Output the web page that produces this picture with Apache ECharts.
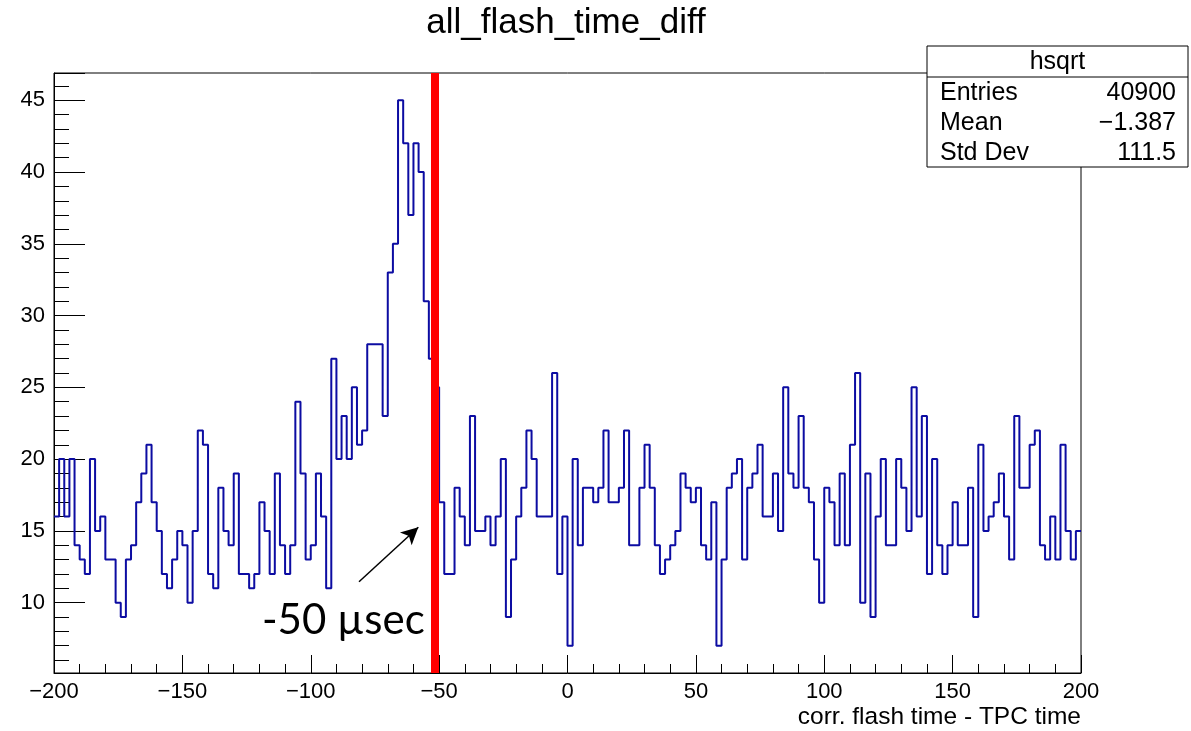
<!DOCTYPE html>
<html>
<head>
<meta charset="utf-8">
<script src="https://cdn.jsdelivr.net/npm/echarts@6/dist/echarts.min.js"></script>
<style>
  html, body { margin: 0; padding: 0; background: #fff; }
  #chart { width: 1191px; height: 731px; }
</style>
</head>
<body>
<div id="chart"></div>
<script>
// ---- data ----
const chartTitle = 'all_flash_time_diff';
const xAxisTitle = 'corr. flash time - TPC time';
const binLow = -200;
const binWidth = 2;
const counts = [
  16,20,16,20,14,13,12,20,15,16,
  13,13,10,9,13,14,17,19,21,17,
  15,12,11,13,15,14,10,15,22,21,
  12,11,18,15,14,19,12,12,11,12,
  17,15,12,19,14,12,14,24,19,13,
  14,19,16,11,27,20,23,20,25,21,
  22,28,28,28,23,33,35,45,42,37,
  42,40,31,27,25,17,12,12,18,16,
  14,23,15,15,16,14,16,20,9,13,
  16,18,22,20,16,16,16,26,12,16,
  7,20,14,18,18,17,18,22,17,17,
  18,22,14,14,18,21,18,14,12,13,
  14,15,19,18,17,18,14,13,17,7,
  13,18,19,20,13,18,19,21,16,16,
  19,15,25,19,18,23,18,17,13,10,
  18,17,14,19,14,21,26,10,19,9,
  16,20,14,14,20,18,15,25,16,23,
  12,20,14,12,14,17,14,14,18,9,
  21,15,16,17,19,16,13,23,18,18,
  21,22,14,13,16,13,21,15,13,15
];
const xRange = [-200, 200];
const xTickStep = 50;
const yRange = [5.1, 46.9];
const yTickStep = 5;
const cutLineX = -51.7;
const annotationText = '-50 \u00b5sec';
const arrowFrom = [-81.2, 11.46];
const arrowTo = [-58.1, 15.25];
const statsName = 'hsqrt';
const statsLabels = ['Entries', 'Mean', 'Std Dev'];
const statsValues = ['40900', '\u22121.387', '111.5'];

// ---- build ----
const histData = counts.map((c, i) => [binLow + i * binWidth, c]);
histData.push([binLow + counts.length * binWidth, counts[counts.length - 1]]);

const FONT = '"Liberation Sans", Arial, Helvetica, sans-serif';
const minusFmt = v => String(v).replace('-', '\u2212');

const chart = echarts.init(document.getElementById('chart'), null, { renderer: 'canvas' });

const statsBox = { x: 927, y: 46, w: 261, h: 121, headH: 31 };
const statsEls = [
  { type: 'rect', shape: { x: statsBox.x, y: statsBox.y, width: statsBox.w, height: statsBox.h },
    style: { fill: '#fff', stroke: '#000', lineWidth: 1 }, z: 100 },
  { type: 'line', shape: { x1: statsBox.x, y1: statsBox.y + statsBox.headH, x2: statsBox.x + statsBox.w, y2: statsBox.y + statsBox.headH },
    style: { stroke: '#000', lineWidth: 1 }, z: 101 },
  { type: 'text', style: { text: statsName, x: statsBox.x + statsBox.w / 2, y: statsBox.y + statsBox.headH / 2 + 1,
    align: 'center', verticalAlign: 'middle', font: '25px ' + FONT, fill: '#000' }, z: 101 }
];
statsLabels.forEach((lab, i) => {
  const yy = 93 + i * 30.3;
  statsEls.push({ type: 'text', style: { text: lab, x: statsBox.x + 13, y: yy, align: 'left', verticalAlign: 'middle',
    font: '25px ' + FONT, fill: '#000' }, z: 101 });
  statsEls.push({ type: 'text', style: { text: statsValues[i], x: statsBox.x + statsBox.w - 12, y: yy, align: 'right', verticalAlign: 'middle',
    font: '25px ' + FONT, fill: '#000' }, z: 101 });
});

const option = {
  animation: false,
  backgroundColor: '#fff',
  grid: { left: 54, right: 110, top: 73, bottom: 58, show: true, borderColor: '#000', borderWidth: 1, backgroundColor: 'transparent' },
  xAxis: {
    type: 'value', min: xRange[0], max: xRange[1], interval: xTickStep,
    axisLine: { show: true, onZero: false, lineStyle: { color: '#000', width: 1 } },
    axisTick: { show: true, inside: true, length: 18, lineStyle: { color: '#000', width: 1 } },
    minorTick: { show: true, splitNumber: 5, length: 9, lineStyle: { color: '#000', width: 1 } },
    splitLine: { show: false },
    axisLabel: { color: '#000', fontSize: 22, fontFamily: FONT, margin: 8, formatter: minusFmt }
  },
  yAxis: {
    type: 'value', min: yRange[0], max: yRange[1], splitNumber: 8, minInterval: yTickStep, maxInterval: yTickStep,
    axisLine: { show: true, onZero: false, lineStyle: { color: '#000', width: 1 } },
    axisTick: { show: true, inside: true, length: 31, lineStyle: { color: '#000', width: 1 } },
    minorTick: { show: true, splitNumber: 5, length: 15, lineStyle: { color: '#000', width: 1 } },
    splitLine: { show: false },
    axisLabel: { color: '#000', fontSize: 22, fontFamily: FONT, margin: 9, showMinLabel: false, showMaxLabel: false }
  },
  series: [{
    type: 'line',
    step: 'end',
    data: histData,
    showSymbol: false,
    symbol: 'none',
    lineStyle: { color: '#0c0ca2', width: 2 },
    z: 2,
    markLine: {
      silent: true,
      animation: false,
      symbol: ['none', 'none'],
      label: { show: false },
      data: [
        { xAxis: cutLineX, lineStyle: { color: '#ff0000', width: 8, type: 'solid' } },
        [
          { coord: arrowFrom, symbol: 'none', lineStyle: { color: '#000', width: 1.5, type: 'solid' } },
          { coord: arrowTo, symbol: 'arrow', symbolSize: [13, 17] }
        ]
      ]
    }
  }],
  graphic: [
    { type: 'text', style: { text: chartTitle, x: 566, y: 23, align: 'center', verticalAlign: 'middle',
      font: '35px ' + FONT, fill: '#000' } },
    { type: 'text', style: { text: xAxisTitle, x: 1081, y: 717, align: 'right', verticalAlign: 'middle',
      font: '24.5px ' + FONT, fill: '#000' } },
    { type: 'text', style: { text: annotationText, x: 262, y: 620, align: 'left', verticalAlign: 'middle',
      font: '42px Lato, "Open Sans", sans-serif', fill: '#000' }, z: 50 }
  ].concat(statsEls)
};
chart.setOption(option);
</script>
</body>
</html>
